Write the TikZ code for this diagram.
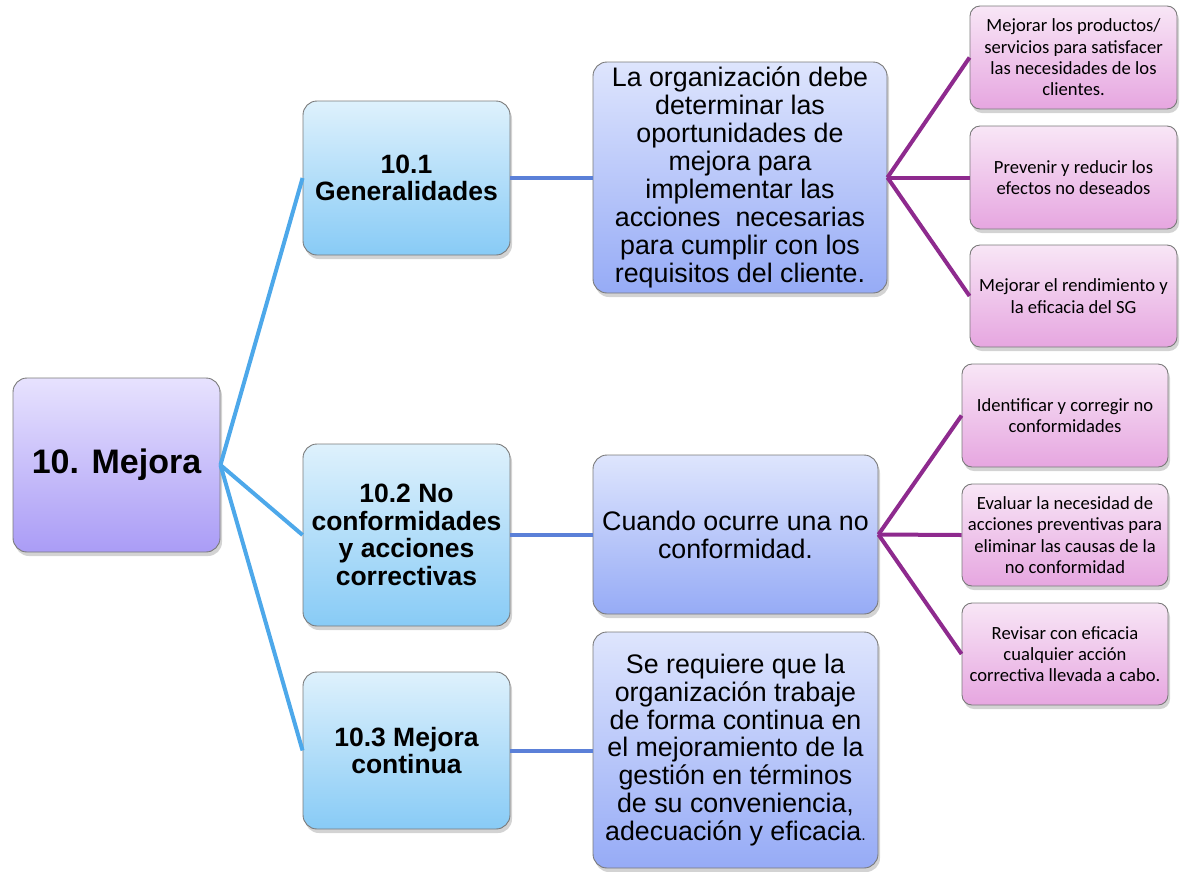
\documentclass[tikz,border=0pt]{standalone}
\usepackage{fontspec}
\setmainfont{Liberation Sans}
\newfontfamily\calib{Carlito}
\usetikzlibrary{shadows}
\definecolor{lnblue}{HTML}{4DA8EA}
\definecolor{lnmid}{HTML}{5B80D8}
\definecolor{lnpur}{HTML}{8E2A8E}
\definecolor{bordgray}{HTML}{7A7A7A}
\definecolor{HTML_E7E2FE}{HTML}{E7E2FE}
\definecolor{HTML_AA9CF6}{HTML}{AA9CF6}
\definecolor{HTML_DEF1FC}{HTML}{DEF1FC}
\definecolor{HTML_88CBF6}{HTML}{88CBF6}
\definecolor{HTML_DEE5FD}{HTML}{DEE5FD}
\definecolor{HTML_96ABF6}{HTML}{96ABF6}
\definecolor{HTML_F8E6F6}{HTML}{F8E6F6}
\definecolor{HTML_E6A6E0}{HTML}{E6A6E0}
\tikzset{
  basebox/.style={rounded corners=14pt, draw=bordgray, line width=0.9pt, align=center, inner sep=2pt,
    drop shadow={opacity=0.35, shadow xshift=2pt, shadow yshift=-4pt}},
  rootbox/.style={basebox, top color=HTML_E7E2FE, bottom color=HTML_AA9CF6, font=\fontsize{34}{40}\selectfont\bfseries},
  secbox/.style={basebox, top color=HTML_DEF1FC, bottom color=HTML_88CBF6, font=\fontsize{26.5}{27.5}\selectfont\bfseries},
  midbox/.style={basebox, top color=HTML_DEE5FD, bottom color=HTML_96ABF6, font=\fontsize{26.8}{27.9}\selectfont},
  leafbox/.style={basebox, rounded corners=10pt, top color=HTML_F8E6F6, bottom color=HTML_E6A6E0, font=\calib\fontsize{18.6}{21.3}\selectfont},
  bline/.style={lnblue, line width=4pt},
  mline/.style={lnmid, line width=4pt},
  pline/.style={lnpur, line width=4pt}
}
\begin{document}
\begin{tikzpicture}[x=1pt,y=-1pt]
\useasboundingbox (0,0) rectangle (1183,871);

\node[rootbox, minimum width=207pt, minimum height=174pt] (root) at (116.5,465) {10. Mejora};

\node[secbox, minimum width=207pt, minimum height=154pt] (s1) at (406.5,178) {10.1\\Generalidades};
\node[secbox, minimum width=207pt, minimum height=182pt] (s2) at (406.5,535) {10.2 No\\conformidades\\y acciones\\correctivas};
\node[secbox, minimum width=207pt, minimum height=157pt] (s3) at (406.5,750.5) {10.3 Mejora\\continua};

\node[midbox, minimum width=294pt, minimum height=231pt] (m1) at (740,177.5) {La organización debe\\determinar las\\oportunidades de\\mejora para\\implementar las\\acciones\ \ necesarias\\para cumplir con los\\requisitos del cliente.};
\node[midbox, minimum width=285pt, minimum height=159pt] (m2) at (735.5,534.5) {Cuando ocurre una no\\conformidad.};
\node[midbox, minimum width=285pt, minimum height=236pt] (m3) at (735.5,750) {Se requiere que la\\organización trabaje\\de forma continua en\\el mejoramiento de la\\gestión en términos\\de su conveniencia,\\adecuación y eficacia{\fontsize{16}{16}\selectfont.}};

\node[leafbox, minimum width=207pt, minimum height=103pt] (l1) at (1073.5,57.5) {Mejorar los productos/\\servicios para satisfacer\\las necesidades de los\\clientes.};
\node[leafbox, minimum width=207pt, minimum height=103pt] (l2) at (1073.5,177.5) {Prevenir y reducir los\\efectos no deseados};
\node[leafbox, minimum width=207pt, minimum height=102pt] (l3) at (1073.5,296) {Mejorar el rendimiento y\\la eficacia del SG};

\node[leafbox, minimum width=206pt, minimum height=103pt] (l4) at (1065,415.5) {Identificar y corregir no\\conformidades};
\node[leafbox, minimum width=206pt, minimum height=102pt] (l5) at (1065,535) {Evaluar la necesidad de\\acciones preventivas para\\eliminar las causas de la\\no conformidad};
\node[leafbox, minimum width=206pt, minimum height=102pt] (l6) at (1065,654) {Revisar con eficacia\\cualquier acción\\correctiva llevada a cabo.};

\draw[bline] (root.east) -- (s1.west);
\draw[bline] (root.east) -- (s2.west);
\draw[bline] (root.east) -- (s3.west);

\draw[mline] (s1.east) -- (m1.west |- s1.east);
\draw[mline] (s2.east) -- (m2.west |- s2.east);
\draw[mline] (s3.east) -- (m3.west |- s3.east);

\draw[pline] (m1.east) -- (l1.west);
\draw[pline] (m1.east) -- (l2.west);
\draw[pline] (m1.east) -- (l3.west);
\draw[pline] (m2.east) -- (l4.west);
\draw[pline] (m2.east) -- (l5.west);
\draw[pline] (m2.east) -- (l6.west);
\end{tikzpicture}
\end{document}
